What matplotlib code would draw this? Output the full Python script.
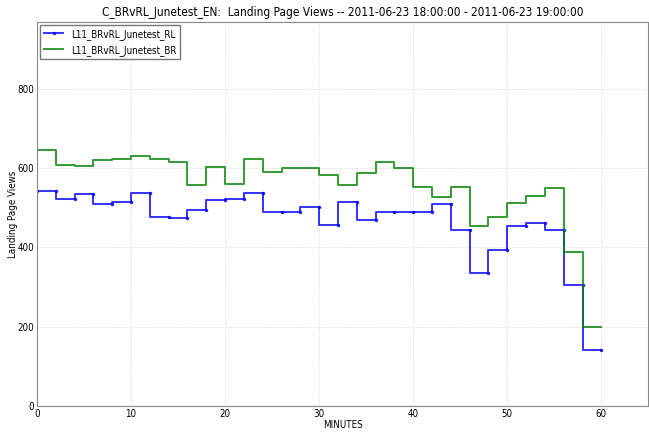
import matplotlib
matplotlib.use('Agg')
import matplotlib.pyplot as plt

minutes = list(range(0, 62, 2))
# value of each 2-minute step, first point repeats the first step
rl_views = [543, 543, 521, 535, 508, 513, 536, 476, 474, 494, 520, 521, 536, 490, 488, 501,
            457, 515, 468, 490, 489, 488, 508, 443, 334, 393, 453, 462, 443, 306, 141]
br_views = [645, 645, 608, 606, 621, 623, 629, 622, 616, 558, 603, 560, 623, 589, 599, 600,
            583, 556, 587, 615, 600, 551, 526, 551, 453, 476, 512, 530, 550, 388, 199]

title = 'C_BRvRL_Junetest_EN:  Landing Page Views -- 2011-06-23 18:00:00 - 2011-06-23 19:00:00'

plt.rcParams['font.family'] = ['DejaVu Sans']
plt.rcParams['font.stretch'] = 'condensed'

fig = plt.figure(figsize=(6.49, 4.32), dpi=100)
ax = fig.add_axes([0.057, 0.06, 0.942, 0.889])

ax.plot(minutes, rl_views, color='blue', drawstyle='steps-pre', marker='.', markersize=3,
        linewidth=1.4, alpha=0.8, label='L11_BRvRL_Junetest_RL')
ax.plot(minutes, br_views, color='green', drawstyle='steps-pre', linewidth=1.4,
        alpha=0.8, label='L11_BRvRL_Junetest_BR')

ax.set_xlim(0, 65)
ax.set_ylim(0, max(br_views) * 1.5)
ax.set_xticks(range(0, 61, 10))
ax.set_yticks(range(0, 801, 200))
ax.tick_params(length=0, labelsize=7, pad=2)
ax.grid(True, linestyle=':', color='#d5d5d5', linewidth=0.7)
for s in ax.spines.values():
    s.set_color('#888888')

ax.set_title(title, fontsize=8.5, pad=4)
ax.set_xlabel('MINUTES', fontsize=7, labelpad=1)
ax.set_ylabel('Landing Page Views', fontsize=7)
ax.yaxis.set_label_coords(-0.031, 0.5)
ax.legend(loc='upper left', fontsize=7, fancybox=False, edgecolor='#555555',
          borderaxespad=0.3, handlelength=2.0)

fig.savefig('out.png', dpi=100)
